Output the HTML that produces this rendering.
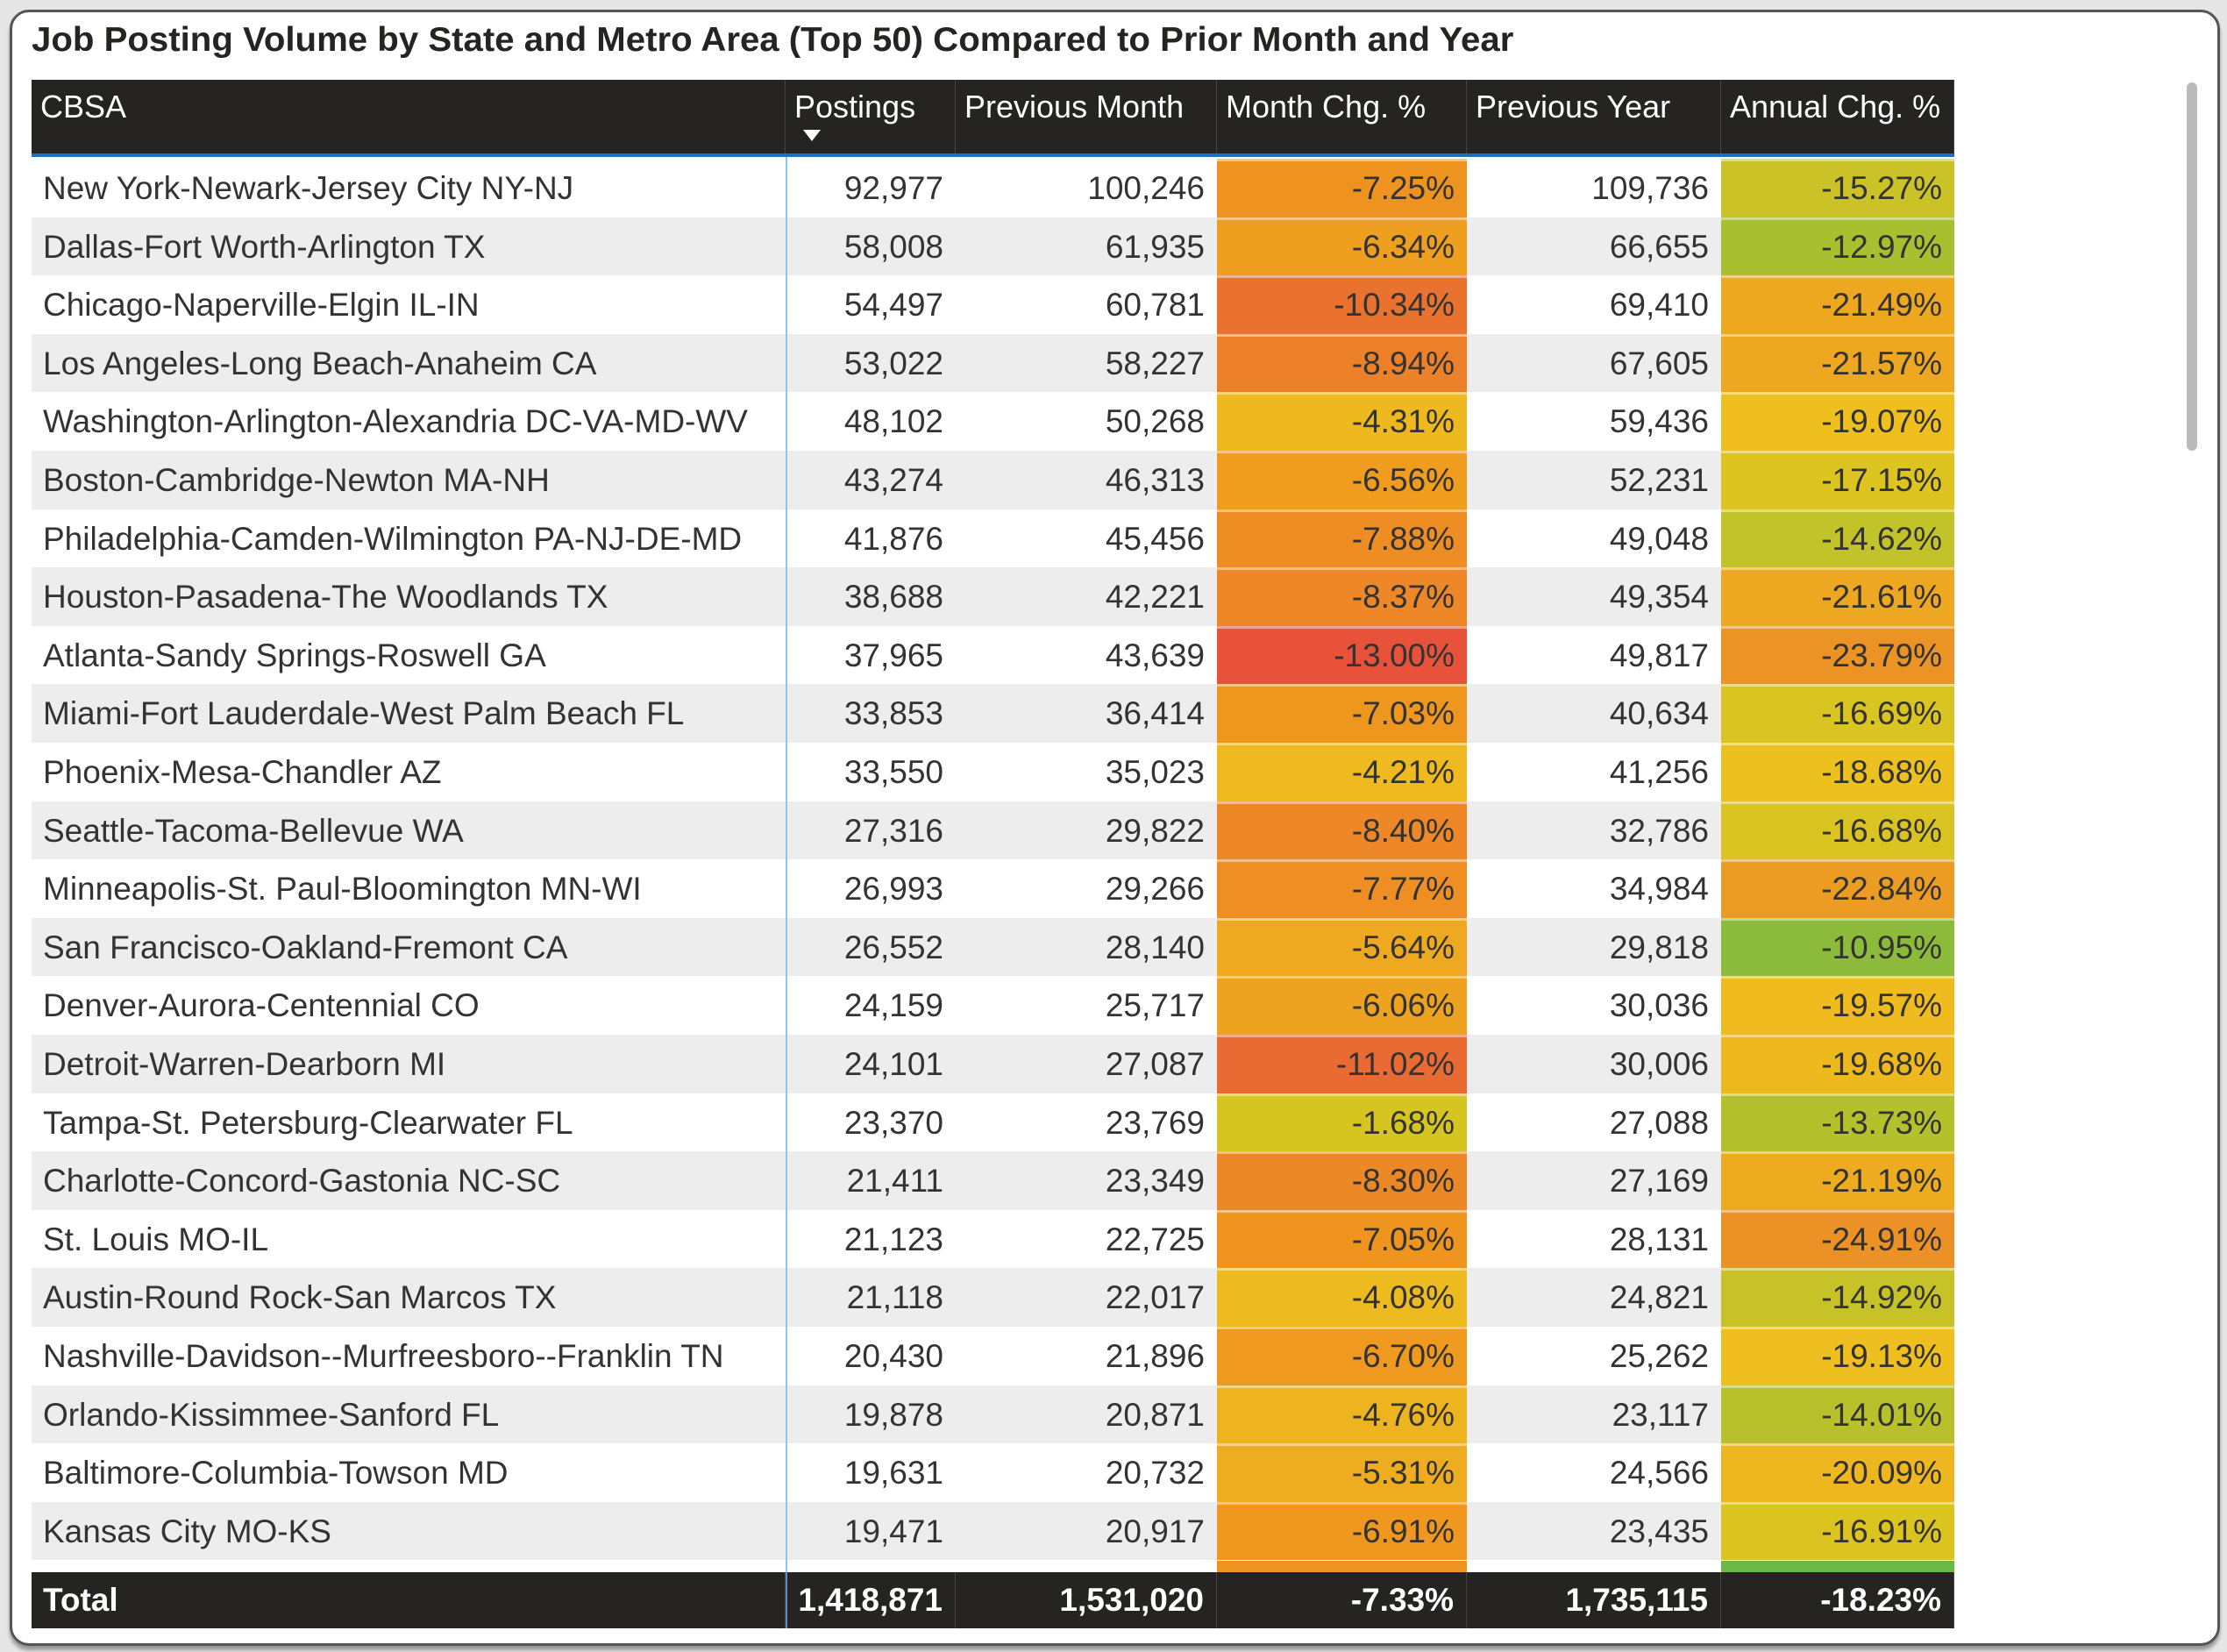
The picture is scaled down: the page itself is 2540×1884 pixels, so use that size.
<!DOCTYPE html>
<html><head><meta charset="utf-8">
<style>
html,body{margin:0;padding:0;}
body{width:2540px;height:1884px;background:#e6e6e6;position:relative;overflow:hidden;font-family:"Liberation Sans",sans-serif;}
#card{position:absolute;left:11px;top:11px;width:2515px;height:1860px;background:#fff;border:3px solid #555;border-radius:22px;box-shadow:0 5px 4px rgba(0,0,0,0.35);}
#title{position:absolute;left:36px;top:24px;font-size:39px;font-weight:bold;color:#252423;white-space:nowrap;transform-origin:0 0;transform:scaleX(1.03);}
.c{position:absolute;box-sizing:border-box;white-space:nowrap;color:#333;font-size:37px;line-height:68px;}
.r{text-align:right;padding-right:14px;}
.l{padding-left:13px;}
.h{position:absolute;top:91px;height:85px;background:#252423;color:#fff;font-size:36px;box-sizing:border-box;padding:10px 10px 0 10px;border-right:1px solid #444;white-space:nowrap;}
#scroll{position:absolute;left:2494px;top:94px;width:12px;height:420px;background:#bbb;border-radius:6px;}
</style></head><body>
<div id="card"></div>
<div id="title">Job Posting Volume by State and Metro Area (Top 50) Compared to Prior Month and Year</div>
<div id="scroll"></div>
<div id="t"></div>
<script>
var cols=[36,896,1090,1388,1673,1963,2229];
var heads=["CBSA","Postings","Previous Month","Month Chg. %","Previous Year","Annual Chg. %"];
var h='';
for(var i=0;i<6;i++){h+='<div class="h" style="left:'+cols[i]+'px;width:'+(cols[i+1]-cols[i])+'px">'+heads[i]+'</div>';}
h+='<div style="position:absolute;left:916px;top:148px;width:0;height:0;border-left:10px solid transparent;border-right:10px solid transparent;border-top:13px solid #fff"></div>';
h+='<div style="position:absolute;left:36px;top:175px;width:2193px;height:4px;background:#1f6fc0"></div>';
var d=[
["New York-Newark-Jersey City NY-NJ","92,977","100,246",-7.25,"109,736",-15.27],
["Dallas-Fort Worth-Arlington TX","58,008","61,935",-6.34,"66,655",-12.97],
["Chicago-Naperville-Elgin IL-IN","54,497","60,781",-10.34,"69,410",-21.49],
["Los Angeles-Long Beach-Anaheim CA","53,022","58,227",-8.94,"67,605",-21.57],
["Washington-Arlington-Alexandria DC-VA-MD-WV","48,102","50,268",-4.31,"59,436",-19.07],
["Boston-Cambridge-Newton MA-NH","43,274","46,313",-6.56,"52,231",-17.15],
["Philadelphia-Camden-Wilmington PA-NJ-DE-MD","41,876","45,456",-7.88,"49,048",-14.62],
["Houston-Pasadena-The Woodlands TX","38,688","42,221",-8.37,"49,354",-21.61],
["Atlanta-Sandy Springs-Roswell GA","37,965","43,639",-13.00,"49,817",-23.79],
["Miami-Fort Lauderdale-West Palm Beach FL","33,853","36,414",-7.03,"40,634",-16.69],
["Phoenix-Mesa-Chandler AZ","33,550","35,023",-4.21,"41,256",-18.68],
["Seattle-Tacoma-Bellevue WA","27,316","29,822",-8.40,"32,786",-16.68],
["Minneapolis-St. Paul-Bloomington MN-WI","26,993","29,266",-7.77,"34,984",-22.84],
["San Francisco-Oakland-Fremont CA","26,552","28,140",-5.64,"29,818",-10.95],
["Denver-Aurora-Centennial CO","24,159","25,717",-6.06,"30,036",-19.57],
["Detroit-Warren-Dearborn MI","24,101","27,087",-11.02,"30,006",-19.68],
["Tampa-St. Petersburg-Clearwater FL","23,370","23,769",-1.68,"27,088",-13.73],
["Charlotte-Concord-Gastonia NC-SC","21,411","23,349",-8.30,"27,169",-21.19],
["St. Louis MO-IL","21,123","22,725",-7.05,"28,131",-24.91],
["Austin-Round Rock-San Marcos TX","21,118","22,017",-4.08,"24,821",-14.92],
["Nashville-Davidson--Murfreesboro--Franklin TN","20,430","21,896",-6.70,"25,262",-19.13],
["Orlando-Kissimmee-Sanford FL","19,878","20,871",-4.76,"23,117",-14.01],
["Baltimore-Columbia-Towson MD","19,631","20,732",-5.31,"24,566",-20.09],
["Kansas City MO-KS","19,471","20,917",-6.91,"23,435",-16.91]];
function interp(stops,v){
 for(var i=1;i<stops.length;i++){if(v<=stops[i][0]){var a=stops[i-1],b=stops[i],t=(v-a[0])/(b[0]-a[0]);
 return 'rgb('+a[1].map(function(x,k){return Math.round(x+(b[1][k]-x)*t)}).join(',')+')';}}
 return 'rgb('+stops[stops.length-1][1].join(',')+')';
}
var ms=[[-13,[232,82,58]],[-10.34,[233,114,47]],[-8.4,[237,135,39]],[-7,[239,150,31]],[-5.6,[238,170,32]],[-4.2,[238,186,31]],[-1.68,[214,196,33]]];
var as=[[-24.91,[236,145,37]],[-23.8,[236,147,37]],[-21.5,[237,168,32]],[-19,[239,192,31]],[-17,[221,196,32]],[-15,[200,194,40]],[-13,[168,192,48]],[-10.95,[140,186,58]]];
function col(stops,v){if(v<=stops[0][0])return 'rgb('+stops[0][1].join(',')+')';return interp(stops,v);}
var top0=181,rh=66.6;
for(var r=0;r<d.length;r++){
 var y=Math.round(top0+r*rh),hh=Math.round(top0+(r+1)*rh)-y;
 var bg=(r%2)?'#eeedee':'#fff';
 h+='<div style="position:absolute;left:36px;top:'+y+'px;width:2193px;height:'+hh+'px;background:'+bg+'"></div>';
 var row=d[r];
 var vals=[row[0],row[1],row[2],row[3].toFixed(2)+'%',row[4],row[5].toFixed(2)+'%'];
 for(var i=0;i<6;i++){
  var st='left:'+cols[i]+'px;top:'+y+'px;width:'+(cols[i+1]-cols[i])+'px;height:'+hh+'px;';
  if(i==3)st+='background:'+col(ms,row[3])+';box-shadow:inset 0 3px 0 rgba(255,255,255,0.45);';
  if(i==5)st+='background:'+col(as,row[5])+';box-shadow:inset 0 3px 0 rgba(255,255,255,0.45);';
  h+='<div class="c '+(i==0?'l':'r')+'" style="'+st+'">'+vals[i]+'</div>';
 }
}
h+='<div style="position:absolute;left:1388px;top:1780px;width:285px;height:13px;background:#ee931f"></div>';
h+='<div style="position:absolute;left:1963px;top:1780px;width:266px;height:13px;background:#6ab845"></div>';
h+='<div style="position:absolute;left:896px;top:179px;width:2px;height:1615px;background:#8cc4ee"></div>';
var tot=["Total","1,418,871","1,531,020","-7.33%","1,735,115","-18.23%"];
h+='<div style="position:absolute;left:36px;top:1793px;width:2193px;height:64px;background:#252423"></div>';
for(var i=0;i<6;i++){
 h+='<div class="c '+(i==0?'l':'r')+'" style="left:'+cols[i]+'px;top:1793px;width:'+(cols[i+1]-cols[i])+'px;height:64px;line-height:64px;color:#fff;font-weight:bold;border-right:1px solid #444">'+tot[i]+'</div>';
}
h+='<div style="position:absolute;left:896px;top:1793px;width:2px;height:64px;background:#5d8fbf"></div>';
document.getElementById('t').innerHTML=h;
</script>
</body></html>
